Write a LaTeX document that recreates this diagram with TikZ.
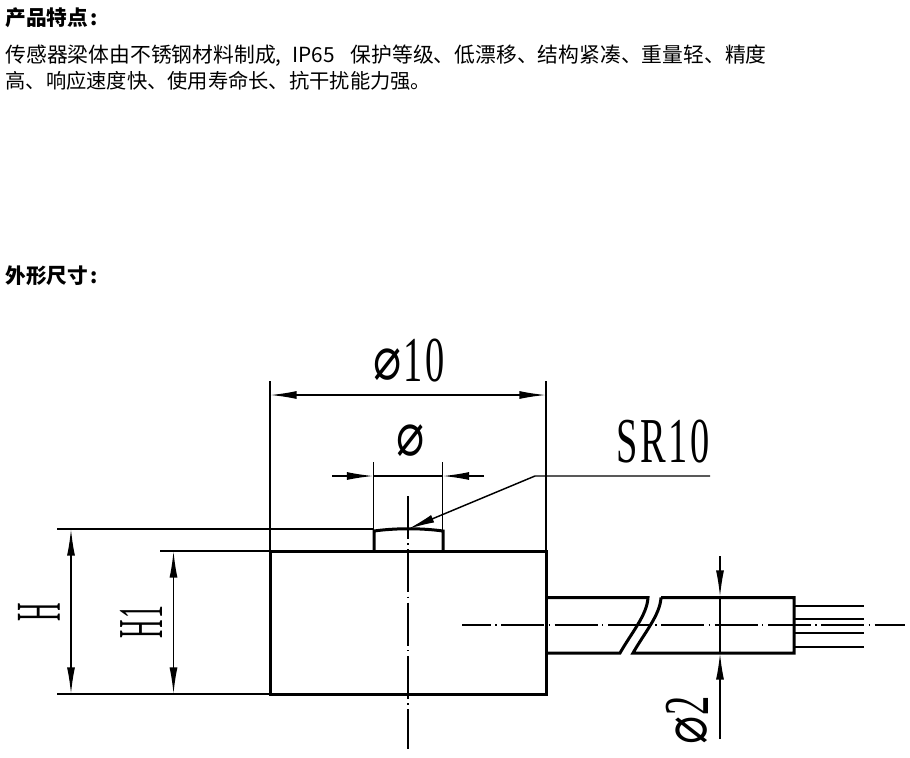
\documentclass[tikz,border=0pt]{standalone}
\usepackage{fontspec}
\usetikzlibrary{arrows.meta}
\newfontfamily\cjk{Noto Sans CJK SC}
\newfontfamily\dimfont{Liberation Serif}
\newfontfamily\diasign{DejaVu Sans}
\newcommand{\diamark}{\raisebox{1.5pt}{\scalebox{1.3}[1]{\diasign\fontsize{45}{45}\selectfont ⌀}}}
\tikzset{every picture/.style={line width=0.75pt}}
\tikzset{
  headtext/.style={anchor=west,inner sep=0pt,font=\cjk\fontsize{15.5}{15.5}\selectfont\bfseries},
  bodytext/.style={anchor=north west,inner sep=0pt,align=left,font=\cjk\fontsize{15.6}{19.5}\selectfont},
  dimtext/.style={inner sep=0pt,font=\dimfont\fontsize{48}{48}\selectfont},
  outline/.style={line width=2.25pt,line join=miter},
  wire/.style={line width=2pt},
  thin line/.style={line width=1.1pt},
  centre line/.style={line width=1pt,dash pattern=on 32.2pt off 3.3pt on 1.1pt off 3.4pt},
  dimarrow/.style={line width=1.1pt,-{Latex[length=20pt,width=6pt]}},
  dimboth/.style={line width=1.1pt,{Latex[length=20pt,width=6pt]}-{Latex[length=20pt,width=6pt]}},
}
\begin{document}
\begin{tikzpicture}[x=0.75pt,y=-0.75pt]
  \useasboundingbox (0,0) rectangle (910,757);

  % texts on top
  \node[headtext] (title1) at (5,18) {产品特点\hspace{1.5pt}:};
  \node[bodytext] (body) at (5,44.5) {传感器梁体由不锈钢材料制成,\hspace{8pt}IP65\hspace{12pt}保护等级、低漂移、结构紧凑、重量轻、精度\\{\fontsize{15.2}{19.5}\selectfont 高、响应速度快、使用寿命长、抗干扰能力强。}};
  \node[headtext] (title2) at (5,276) {外形尺寸\hspace{1.5pt}:};

  % sensor body, cap and cable
  \draw[outline] (270,551) -- (546,551) -- (546,694) -- (270,694) -- cycle;
  \draw[outline] (374,551) -- (374,531) .. controls (396,528) and (421,528) .. (443,531) -- (443,551);
  \draw[outline] (546,597.5) -- (648,597.5) .. controls (647,615) and (632,632) .. (620,653) -- (546,653);
  \draw[outline] (661,597.5) -- (794,597.5) -- (794,653) -- (633,653) .. controls (645,632) and (660,615) .. (661,597.5);
  \foreach \wy in {606,619,633,647}
    \draw[wire] (794,\wy) -- (864,\wy);

  % centre lines
  \draw[centre line] (408,496) -- (408,749);
  \draw[centre line,dash phase=10.5pt] (462,625) -- (905,625);

  % extension lines
  \draw[thin line] (270,381) -- (270,551);
  \draw[thin line] (546,381) -- (546,551);
  \draw[thin line] (373.5,462) -- (373.5,530);
  \draw[thin line] (442.5,462) -- (442.5,530);
  \draw[thin line] (57,529) -- (374,529);
  \draw[thin line] (160,551) -- (270,551);
  \draw[thin line] (57,694) -- (270,694);
  \draw[thin line] (720,597) -- (720,653);

  % dimensions
  \coordinate (d10l) at (270,395);
  \coordinate (d10r) at (546,395);
  \draw[dimboth] (d10l) -- (d10r);
  \coordinate (capl) at (373.5,476);
  \coordinate (capr) at (442.5,476);
  \coordinate (capla) at (332,476);
  \coordinate (capra) at (484,476);
  \draw[dimarrow] (capla) -- (capl);
  \draw[dimarrow] (capra) -- (capr);
  \draw[thin line] (capl) -- (capr);
  \coordinate (ht) at (71,529);
  \coordinate (hb) at (71,694);
  \draw[dimboth] (ht) -- (hb);
  \coordinate (hat) at (173.5,551);
  \coordinate (hab) at (173.5,694);
  \draw[dimboth] (hat) -- (hab);
  \coordinate (cabt) at (720,597);
  \coordinate (cabb) at (720,653);
  \coordinate (cabta) at (720,556);
  \coordinate (cabba) at (720,739);
  \draw[dimarrow] (cabta) -- (cabt);
  \draw[dimarrow] (cabba) -- (cabb);

  % leader
  \coordinate (leadend) at (710,476);
  \coordinate (leadknee) at (535,476);
  \coordinate (leadtip) at (408,529);
  \draw[dimarrow] (leadend) -- (leadknee) -- (leadtip);

  % dimension labels
  \node[dimtext,xscale=0.6] (ldten) at (409,361) {\diamark\hspace{2pt}1\hspace{3pt}0};
  \node[dimtext,xscale=0.6] (ldcap) at (411,441) {\diamark};
  \node[dimtext,xscale=0.6] (lsr) at (663,442) {S\hspace{3pt}R\hspace{3pt}1\hspace{3pt}0};
  \node[dimtext,rotate=90,xscale=0.4] (lh) at (39,612) {H};
  \node[dimtext,rotate=90,xscale=0.4] (lha) at (141,622) {H\hspace{2pt}1};
  \node[dimtext,rotate=90,xscale=0.6] (lcab) at (687,720) {\diamark\hspace{1pt}2};
\end{tikzpicture}
\end{document}
